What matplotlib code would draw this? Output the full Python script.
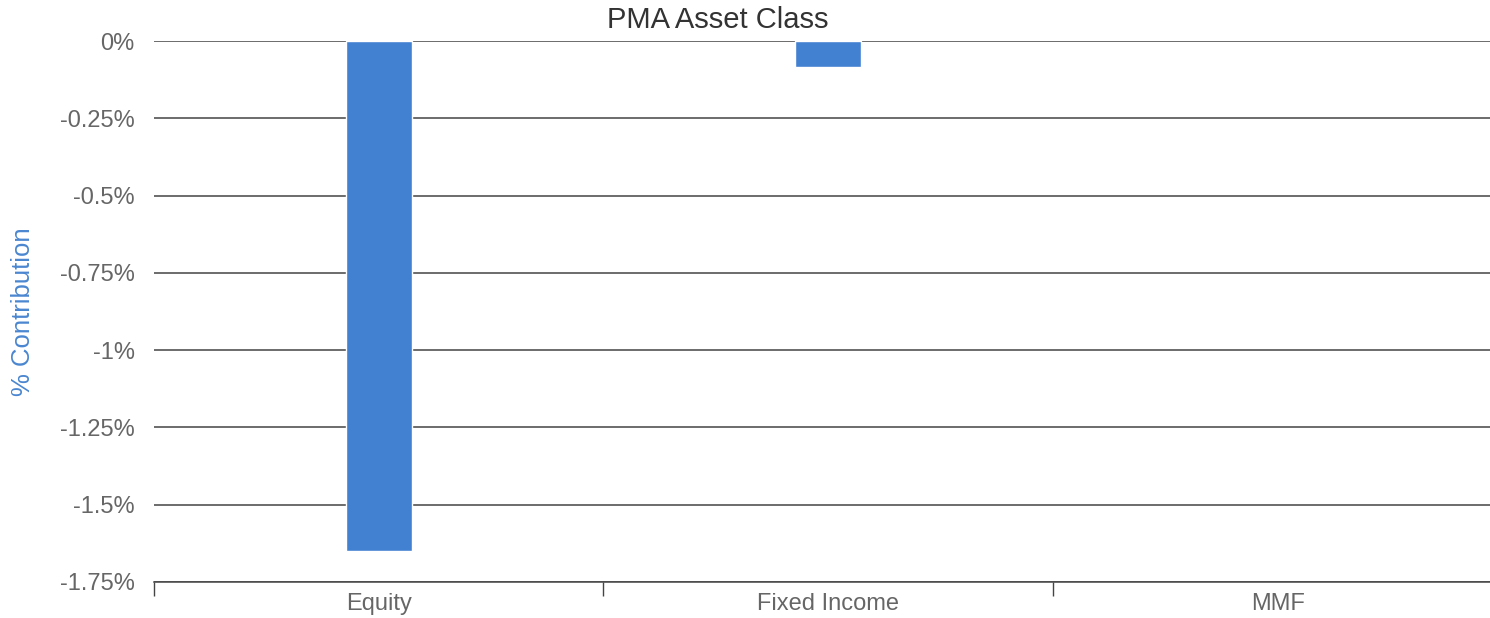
import matplotlib.pyplot as plt
from matplotlib.ticker import FixedLocator

categories = ['Equity', 'Fixed Income', 'MMF']
contribution = [-1.65, -0.084, 0.0]
y_ticks = [0, -0.25, -0.5, -0.75, -1, -1.25, -1.5, -1.75]
y_labels = ['0%', '-0.25%', '-0.5%', '-0.75%', '-1%', '-1.25%', '-1.5%', '-1.75%']

BAR = '#4280d2'

plt.rcParams['font.family'] = ['Liberation Sans', 'DejaVu Sans']

fig = plt.figure(figsize=(14.9, 6.18), dpi=100)
# plot area runs past the right edge of the picture (cropped)
ax = fig.add_axes([154 / 1490, 1 - 582 / 618, 1348.5 / 1490, 541 / 618])

x = list(range(len(categories)))
edges = [1 if v != 0 else 0 for v in contribution]
ax.bar(x, contribution, width=0.146, color=BAR, edgecolor='white', linewidth=edges, zorder=3)

ax.set_xlim(-0.5, len(categories) - 0.5)
ax.set_ylim(-1.75, 0)
ax.set_yticks(y_ticks)
ax.set_yticklabels(y_labels)
ax.grid(axis='y', color='#444444', linewidth=1.1, zorder=1)
ax.tick_params(axis='y', length=0, pad=14, labelsize=17, labelcolor='#666666')

ax.set_xticks(x)
ax.set_xticklabels(categories)
ax.tick_params(axis='x', which='major', length=0, pad=8, labelsize=17, labelcolor='#666666')
ax.xaxis.set_minor_locator(FixedLocator([-0.5, 0.5, 1.5, 2.5]))
ax.tick_params(axis='x', which='minor', length=10, width=1, color='#444444')

for side in ['top', 'right', 'left']:
    ax.spines[side].set_visible(False)
ax.spines['bottom'].set_color('#444444')
ax.spines['bottom'].set_linewidth(1.1)

ax.set_ylabel('% Contribution', color='#4a86d0', fontsize=18.5, labelpad=18)
fig.text(0.482, 0.968, 'PMA Asset Class', ha='center', va='center', fontsize=21, color='#333333')

fig.savefig('out.png', dpi=100)
